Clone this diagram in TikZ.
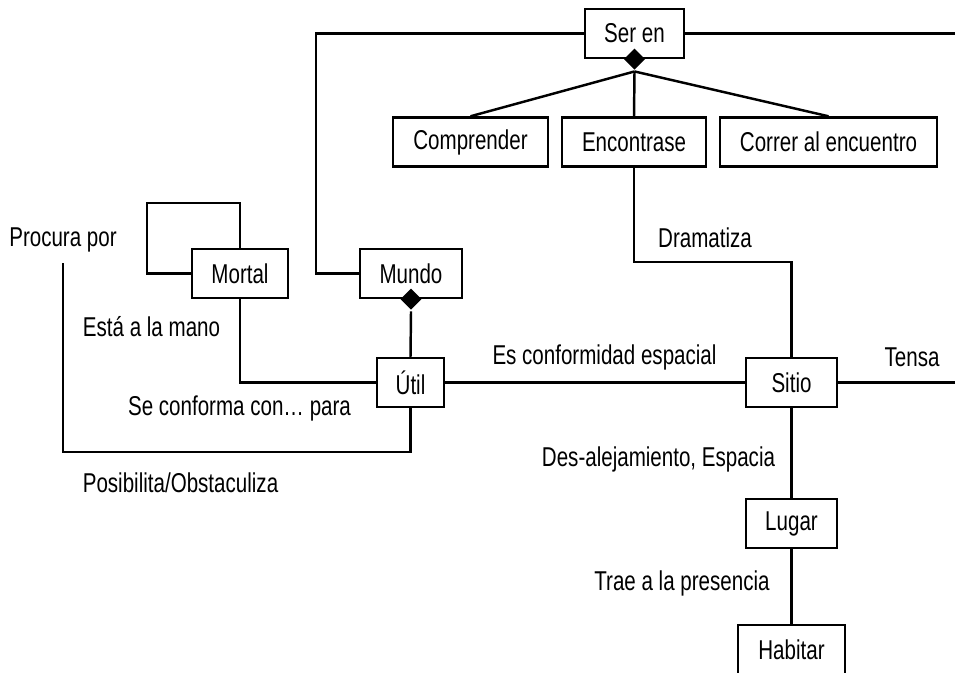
\documentclass[tikz,border=0pt]{standalone}
\usepackage{fontspec}
\setmainfont{Liberation Sans}[FakeStretch=0.755]
\usetikzlibrary{shapes.geometric}

\begin{document}
\begin{tikzpicture}[
            x=0.02cm, y=-0.02cm, line width=1.4pt,
            every node/.style={font=\fontsize{15.5}{18}\selectfont},
            box/.style={draw, fill=white, minimum height=0.98cm, inner sep=2pt},
            rel/.style={inner sep=0pt},
            agg/.style={diamond, fill=black, minimum size=0.44cm, inner sep=0pt}
            ]
            \useasboundingbox (0,0) rectangle (955,672);

            \node[box, minimum width=1.98cm] (seren) at (634.5,33.5) {Ser en};
            \node[box, minimum width=3.1cm] (comp) at (470.5,142) {Comprender};
            \node[box, minimum width=2.88cm] (enc) at (634,142) {Encontrase};
            \node[box, minimum width=4.34cm] (corr) at (828.5,142) {Correr al encuentro};

            \node[box, minimum width=1.92cm] (mortal) at (240,273.5) {Mortal};
            \node[box, minimum width=2.04cm] (mundo) at (411,273.5) {Mundo};
            \node[box, minimum width=1.34cm] (util) at (410.5,382.5) {Útil};
            \node[box, minimum width=1.82cm] (sitio) at (791.5,382.5) {Sitio};
            \node[box, minimum width=1.82cm] (lugar) at (791.5,523.5) {Lugar};
            \node[box, minimum width=2.14cm] (habitar) at (791.5,649.5) {Habitar};

            \node[agg] (dseren) at (seren.south) {};
            \node[agg] (dmundo) at (mundo.south) {};

            \coordinate (cl) at (316,33.5);
            \coordinate (cr) at (955,33.5);
            \coordinate (dr) at (791.5,262);
            \coordinate (tr) at (955,382.5);
            \coordinate (ml) at (147,203);
            \coordinate (pp) at (63,263);
            \coordinate (pb) at (63,452);

            \draw (seren.west) -- (cl) |- (mundo.west);
            \draw (seren.east) -- (cr);
            \draw (dseren.south) -- (comp.north);
            \draw (dseren.south) -- (enc.north);
            \draw (dseren.south) -- (corr.north);
            \draw (enc.south) |- (dr) -- (sitio.north);
            \draw (sitio.east) -- (tr);
            \draw (util.east) -- (sitio.west);
            \draw (dmundo.south) -- (util.north);
            \draw (mortal.north) |- (ml) |- (mortal.west);
            \draw (mortal.south) |- (util.west);
            \draw (pp) -- (pb) -| (util.south);
            \draw (sitio.south) -- (lugar.north);
            \draw (lugar.south) -- (habitar.north);

            \node[rel] (ldram) at (705,238) {Dramatiza};
            \node[rel] (ltensa) at (912,357) {Tensa};
            \node[rel] (lconf) at (604.5,357) {Es conformidad espacial};
            \node[rel] (lmano) at (151.5,327) {Está a la mano};
            \node[rel] (lpara) at (239.5,408) {Se conforma con… para};
            \node[rel] (lproc) at (63,240) {Procura por};
            \node[rel] (lposi) at (180.5,483) {Posibilita/Obstaculiza};
            \node[rel] (ldes) at (658.5,459) {Des-alejamiento, Espacia};
            \node[rel] (ltrae) at (682,583) {Trae a la presencia};

\end{tikzpicture}
\end{document}
